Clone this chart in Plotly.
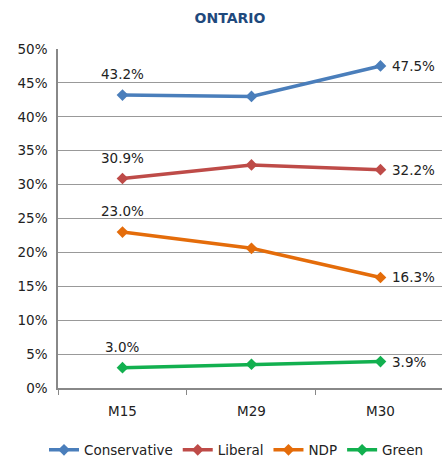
import plotly.graph_objects as go

# Data
waves = ["M15", "M29", "M30"]
parties = ["Conservative", "Liberal", "NDP", "Green"]
conservative = [0.432, 0.430, 0.475]
liberal = [0.309, 0.329, 0.322]
ndp = [0.230, 0.206, 0.163]
green = [0.030, 0.035, 0.039]
series = [conservative, liberal, ndp, green]
colors = ["#4A7EBB", "#BE4B48", "#E46C0A", "#12B04F"]

FONT = "DejaVu Sans, Arial, sans-serif"

fig = go.Figure()
for name, vals, col in zip(parties, series, colors):
    fig.add_trace(go.Scatter(
        x=waves, y=vals, name=name, mode="lines+markers",
        line=dict(color=col, width=3.5),
        marker=dict(symbol="diamond", size=9, color=col),
    ))
    # first point label above, last point label to the right
    fig.add_annotation(x=waves[0], y=vals[0], text=f"{vals[0]*100:.1f}%",
                       showarrow=False, yshift=21,
                       font=dict(size=13.5, color="#222"))
    fig.add_annotation(x=waves[-1], y=vals[-1], text=f"{vals[-1]*100:.1f}%",
                       showarrow=False, xanchor="left", xshift=10,
                       font=dict(size=13.5, color="#222"))

fig.update_layout(
    width=442, height=458,
    margin=dict(l=58, r=0, t=49, b=70, autoexpand=False),
    paper_bgcolor="white", plot_bgcolor="white",
    font=dict(family=FONT, size=13.5, color="#222"),
    title=dict(text="<b>ONTARIO</b>", x=230 / 442, xref="container",
               xanchor="center", y=1 - 18 / 458,
               yref="container", yanchor="middle",
               font=dict(size=14, color="#1F497D")),
    showlegend=True,
    legend=dict(orientation="h", xref="container", x=236 / 442, xanchor="center",
                yref="container", y=8 / 458, yanchor="middle",
                font=dict(size=13.5), tracegroupgap=0),
)
fig.update_xaxes(
    range=[-0.5, 2.477], showgrid=False, showline=True, linecolor="#888",
    linewidth=1.5, ticks="outside", tickson="boundaries", ticklen=5,
    tickcolor="#888", ticklabelstandoff=10, automargin=False,
)
fig.update_yaxes(
    range=[0, 0.5], dtick=0.05, tickformat=".0%", showgrid=True,
    gridcolor="#999", gridwidth=1, showline=True, linecolor="#888",
    linewidth=1.5, zeroline=False, ticks="", ticklabelstandoff=6,
    automargin=False,
)

# drop the default page margin so the figure fills the window
fig.write_html("out.html", config={"displayModeBar": False},
               post_script="document.body.style.margin='0';"
                           "document.body.style.overflow='hidden';")
